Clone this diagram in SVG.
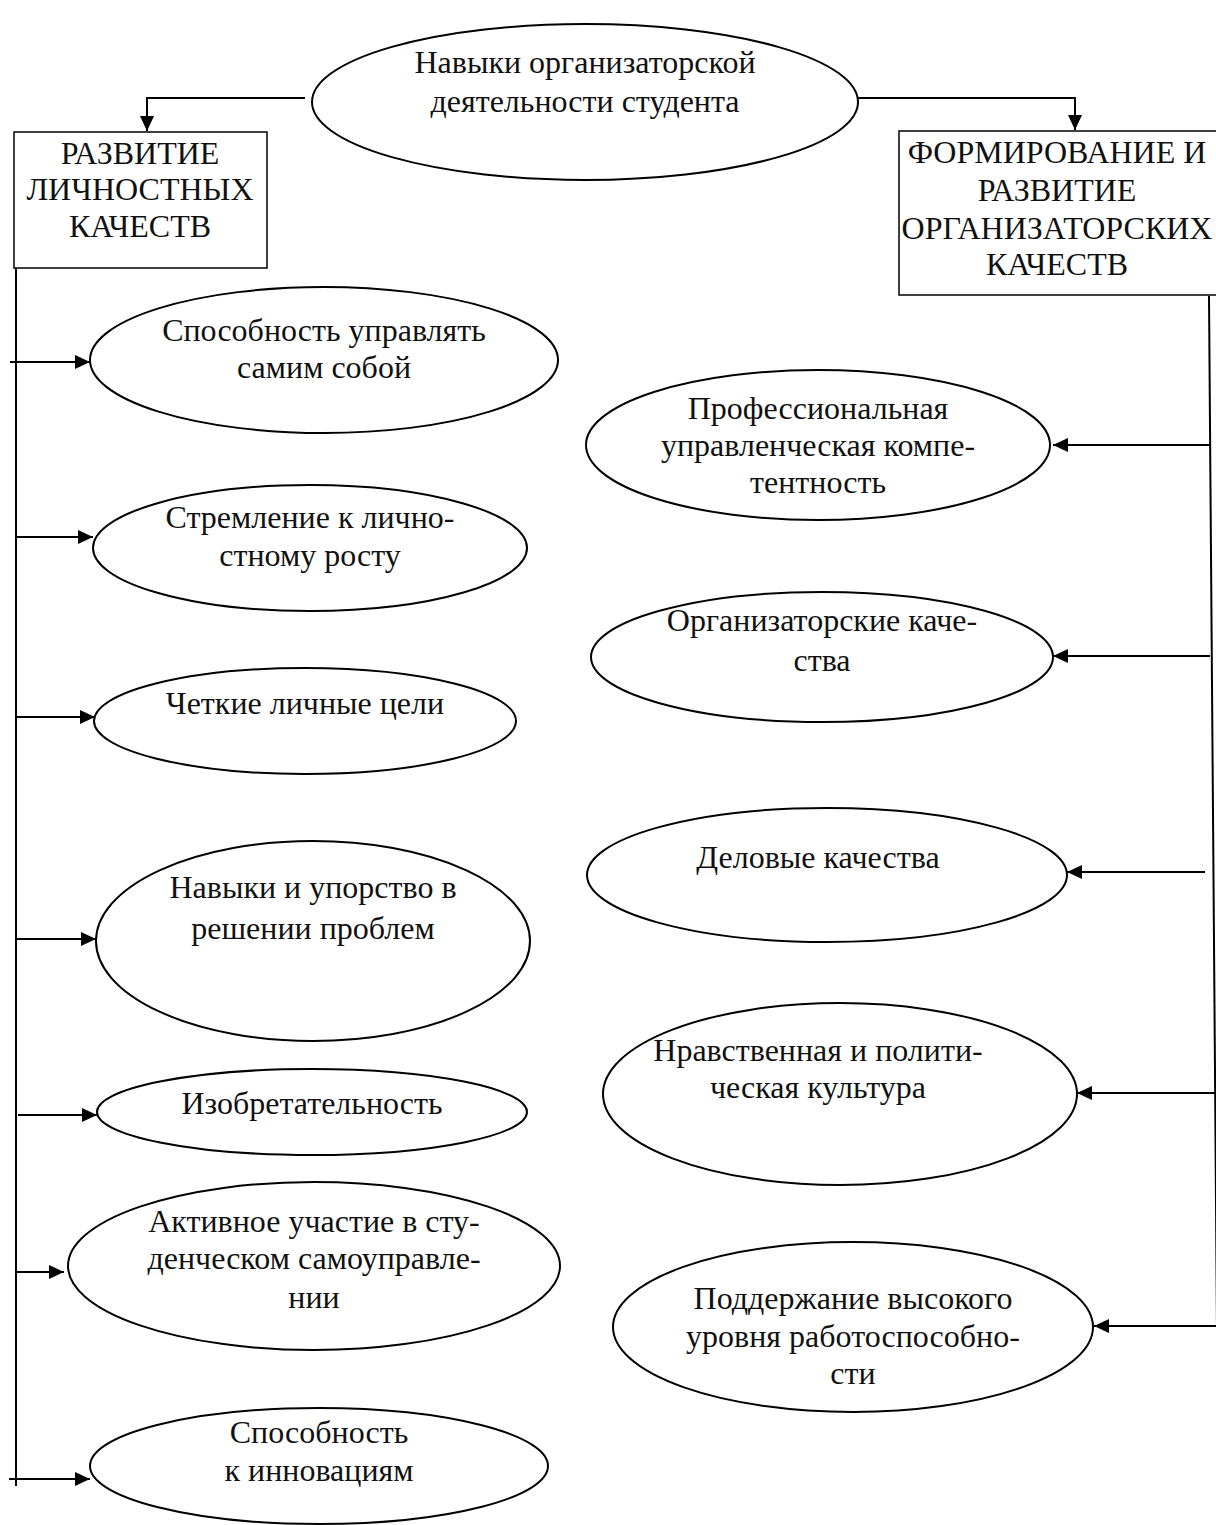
<svg xmlns="http://www.w3.org/2000/svg" width="1216" height="1525" viewBox="0 0 1216 1525">
  <style>
    .shape { fill: #fff; stroke: #000; stroke-width: 2; }
    .box { fill: #fff; stroke: #000; stroke-width: 1.5; }
    .line { fill: none; stroke: #000; stroke-width: 2; }
    text { font-family: "Liberation Serif", "Times New Roman", serif; font-size: 32px; fill: #111; text-anchor: middle; }
  </style>
  <defs>
    <marker id="arrow" markerUnits="userSpaceOnUse" markerWidth="16" markerHeight="14" refX="15" refY="7" orient="auto">
      <path d="M0,0 L15,7 L0,14 Z" fill="#000"/>
    </marker>
  </defs>
  <rect width="1216" height="1525" fill="#fff"/>

  <!-- connectors -->
  <g id="connectors">
    <polyline class="line" points="305,98 147,98 147,131" marker-end="url(#arrow)"/>
    <polyline class="line" points="858,98 1075,98 1075,130" marker-end="url(#arrow)"/>
    <!-- left trunk -->
    <line class="line" x1="16" y1="268" x2="16" y2="1486"/>
    <line class="line" x1="10" y1="362" x2="90" y2="362" marker-end="url(#arrow)"/>
    <line class="line" x1="16" y1="537" x2="93" y2="537" marker-end="url(#arrow)"/>
    <line class="line" x1="16" y1="717" x2="95" y2="717" marker-end="url(#arrow)"/>
    <line class="line" x1="16" y1="939" x2="96" y2="939" marker-end="url(#arrow)"/>
    <line class="line" x1="18" y1="1115" x2="97" y2="1115" marker-end="url(#arrow)"/>
    <line class="line" x1="16" y1="1272" x2="64" y2="1272" marker-end="url(#arrow)"/>
    <line class="line" x1="9" y1="1479" x2="90" y2="1479" marker-end="url(#arrow)"/>
    <!-- right trunk -->
    <line class="line" x1="1209" y1="296" x2="1217" y2="1330"/>
    <line class="line" x1="1210" y1="445" x2="1053" y2="445" marker-end="url(#arrow)"/>
    <line class="line" x1="1210" y1="656" x2="1053" y2="656" marker-end="url(#arrow)"/>
    <line class="line" x1="1205" y1="872" x2="1067" y2="872" marker-end="url(#arrow)"/>
    <line class="line" x1="1216" y1="1093" x2="1077" y2="1093" marker-end="url(#arrow)"/>
    <line class="line" x1="1216" y1="1326" x2="1094" y2="1326" marker-end="url(#arrow)"/>
  </g>

  <!-- root -->
  <g id="root">
    <ellipse class="shape" cx="585" cy="102" rx="273" ry="78"/>
    <text x="585" y="73">Навыки организаторской</text>
    <text x="585" y="112">деятельности студента</text>
  </g>

  <g id="personal">
    <rect class="box" x="14" y="132" width="253" height="136"/>
    <text x="140" y="164">РАЗВИТИЕ</text>
    <text x="140" y="200">ЛИЧНОСТНЫХ</text>
    <text x="140" y="237">КАЧЕСТВ</text>
  </g>

  <g id="organizing">
    <rect class="box" x="899" y="131" width="330" height="164"/>
    <text x="1057" y="163">ФОРМИРОВАНИЕ И</text>
    <text x="1057" y="201">РАЗВИТИЕ</text>
    <text x="1057" y="239">ОРГАНИЗАТОРСКИХ</text>
    <text x="1057" y="275">КАЧЕСТВ</text>
  </g>

  <!-- left column -->
  <g id="self-control">
    <ellipse class="shape" cx="324" cy="360" rx="234" ry="73"/>
    <text x="324" y="341">Способность управлять</text>
    <text x="324" y="378">самим собой</text>
  </g>
  <g id="growth">
    <ellipse class="shape" cx="310" cy="548" rx="217" ry="63"/>
    <text x="310" y="528">Стремление к лично-</text>
    <text x="310" y="566">стному росту</text>
  </g>
  <g id="goals">
    <ellipse class="shape" cx="305" cy="721" rx="211" ry="53"/>
    <text x="305" y="714">Четкие личные цели</text>
  </g>
  <g id="problems">
    <ellipse class="shape" cx="313" cy="941" rx="217" ry="100"/>
    <text x="313" y="898">Навыки и упорство в</text>
    <text x="313" y="939">решении проблем</text>
  </g>
  <g id="inventiveness">
    <ellipse class="shape" cx="312" cy="1112" rx="215" ry="43"/>
    <text x="312" y="1114">Изобретательность</text>
  </g>
  <g id="self-government">
    <ellipse class="shape" cx="314" cy="1266" rx="246" ry="84"/>
    <text x="314" y="1232">Активное участие в сту-</text>
    <text x="314" y="1269">денческом самоуправле-</text>
    <text x="314" y="1308">нии</text>
  </g>
  <g id="innovation">
    <ellipse class="shape" cx="319" cy="1466" rx="229" ry="58"/>
    <text x="319" y="1443">Способность</text>
    <text x="319" y="1481">к инновациям</text>
  </g>

  <!-- right column -->
  <g id="competence">
    <ellipse class="shape" cx="818" cy="445" rx="232" ry="75"/>
    <text x="818" y="419">Профессиональная</text>
    <text x="818" y="456">управленческая компе-</text>
    <text x="818" y="493">тентность</text>
  </g>
  <g id="organizer-traits">
    <ellipse class="shape" cx="822" cy="657" rx="231" ry="65"/>
    <text x="822" y="631">Организаторские каче-</text>
    <text x="822" y="671">ства</text>
  </g>
  <g id="business">
    <ellipse class="shape" cx="827" cy="875" rx="240" ry="67"/>
    <text x="818" y="868">Деловые качества</text>
  </g>
  <g id="culture">
    <ellipse class="shape" cx="840" cy="1094" rx="237" ry="91"/>
    <text x="818" y="1061">Нравственная и полити-</text>
    <text x="818" y="1098">ческая культура</text>
  </g>
  <g id="performance">
    <ellipse class="shape" cx="853" cy="1327" rx="240" ry="85"/>
    <text x="853" y="1309">Поддержание высокого</text>
    <text x="853" y="1347">уровня работоспособно-</text>
    <text x="853" y="1384">сти</text>
  </g>
</svg>
